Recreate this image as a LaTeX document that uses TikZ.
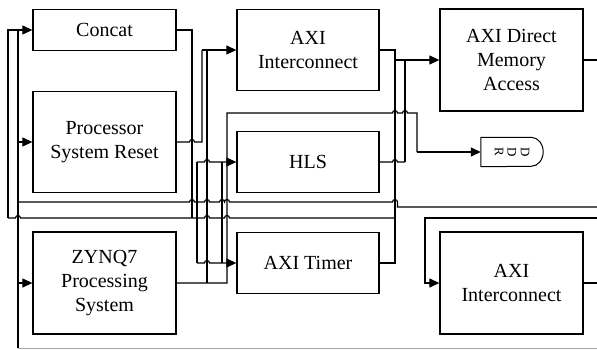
\documentclass[tikz,border=0pt]{standalone}
\usepackage{fontspec}
\setmainfont{Liberation Serif}
\usetikzlibrary{arrows.meta}
\newcommand\hopx[2]{-- ({#1-2.5},#2) arc[start angle=180,end angle=360,radius=2.5]}
\begin{document}
\begin{tikzpicture}[x=1pt,y=-1pt,
  box/.style={draw, line width=1.3pt, minimum width=143pt, align=center,
    font=\fontsize{20}{24}\selectfont, inner sep=0pt},
  wire/.style={line width=1.2pt},
  arr/.style={wire, -{Triangle[length=10pt,width=9pt]}},
  faint/.style={line width=1pt, black!35}]
\useasboundingbox (0,0) rectangle (597,349);
% blocks
\node[box, minimum height=41pt]  (concat) at (104.5,30)  {Concat};
\node[box, minimum height=101pt] (psr)    at (104.5,142) {Processor\\System Reset};
\node[box, minimum height=102pt] (zynq)   at (104.5,283) {ZYNQ7\\Processing\\System};
\node[box, minimum width=142pt, minimum height=81pt] (ic1)   at (308,50)  {AXI\\Interconnect};
\node[box, minimum width=142pt, minimum height=61pt] (hls)   at (308,162) {HLS};
\node[box, minimum width=142pt, minimum height=61pt] (timer) at (308,263) {AXI Timer};
\node[box, minimum height=102pt] (dma) at (511.5,60)  {AXI Direct\\Memory\\Access};
\node[box, minimum height=102pt] (ic2) at (511.5,283) {AXI\\Interconnect};
\node[minimum width=62pt, minimum height=29pt, inner sep=0pt] (ddr) at (512,152) {};
\draw[line width=1pt] (ddr.north west) -- ([xshift=-12pt]ddr.north east)
  arc[start angle=-90,end angle=0,x radius=12,y radius=14.5]
  arc[start angle=0,end angle=90,x radius=12,y radius=14.5]
  -- (ddr.south west) -- cycle;
\node[rotate=-90, align=center, font=\fontsize{13}{13}\selectfont, inner sep=0pt] at (ddr.center) {D\\D\\R};
% left buses
\coordinate (l8) at (8,218);
\coordinate (l18) at (18,348);
\draw[arr] (l8) -- (8,30) -- (concat.west);
\draw[wire] (18,30) -- (l18);
\draw[faint] (l18) -- (597,348);
\draw[arr] (18,142) -- (psr.west);
\draw[arr] (18,283) -- (zynq.west);
% concat out
\draw[wire] (concat.east) -- (192,30) -- (192,218);
% psr out
\draw[wire] (psr.east) \hopx{192}{142} -- (202,142) -- (202,50);
\draw[arr] (202,50) -- (ic1.west);
% zynq out
\draw[wire] (zynq.east) -- (227,283) -- (227,113) \hopx{395}{113} \hopx{405}{113} -- (417,113) -- (417,152);
\draw[arr] (417,152) -- (ddr.west);
\draw[wire] (207,50) -- (207,283);
% hls / timer inputs
\draw[arr] (197,162) \hopx{207}{162} -- (hls.west);
\draw[arr] (197,263) \hopx{207}{263} -- (timer.west);
\draw[wire] (197,162) -- (197,263);
\draw[wire] (222,162) -- (222,263);
% horizontal buses
\draw[wire] (18,202) \hopx{192}{202} \hopx{207}{202} \hopx{222}{202} \hopx{227}{202} \hopx{395}{202} -- (397.5,207) -- (597,207);
\draw[wire] (l8) \hopx{18}{218} -- (192,218) \hopx{207}{218} \hopx{227}{218} -- (395,218);
% right side
\draw[wire] (ic1.east) -- (395,50) -- (395,263) -- (timer.east);
\draw[arr] (395,60) -- (dma.west);
\draw[wire] (405,60) -- (405,162);
\draw[wire] (hls.east) \hopx{395}{162} -- (405,162);
\draw[wire] (dma.east) -- (597,60);
\draw[wire] (ic2.east) -- (597,283);
\coordinate (r218) at (597,218);
\draw[arr] (r218) -- (425,218) -- (425,283) -- (ic2.west);
\end{tikzpicture}
\end{document}
